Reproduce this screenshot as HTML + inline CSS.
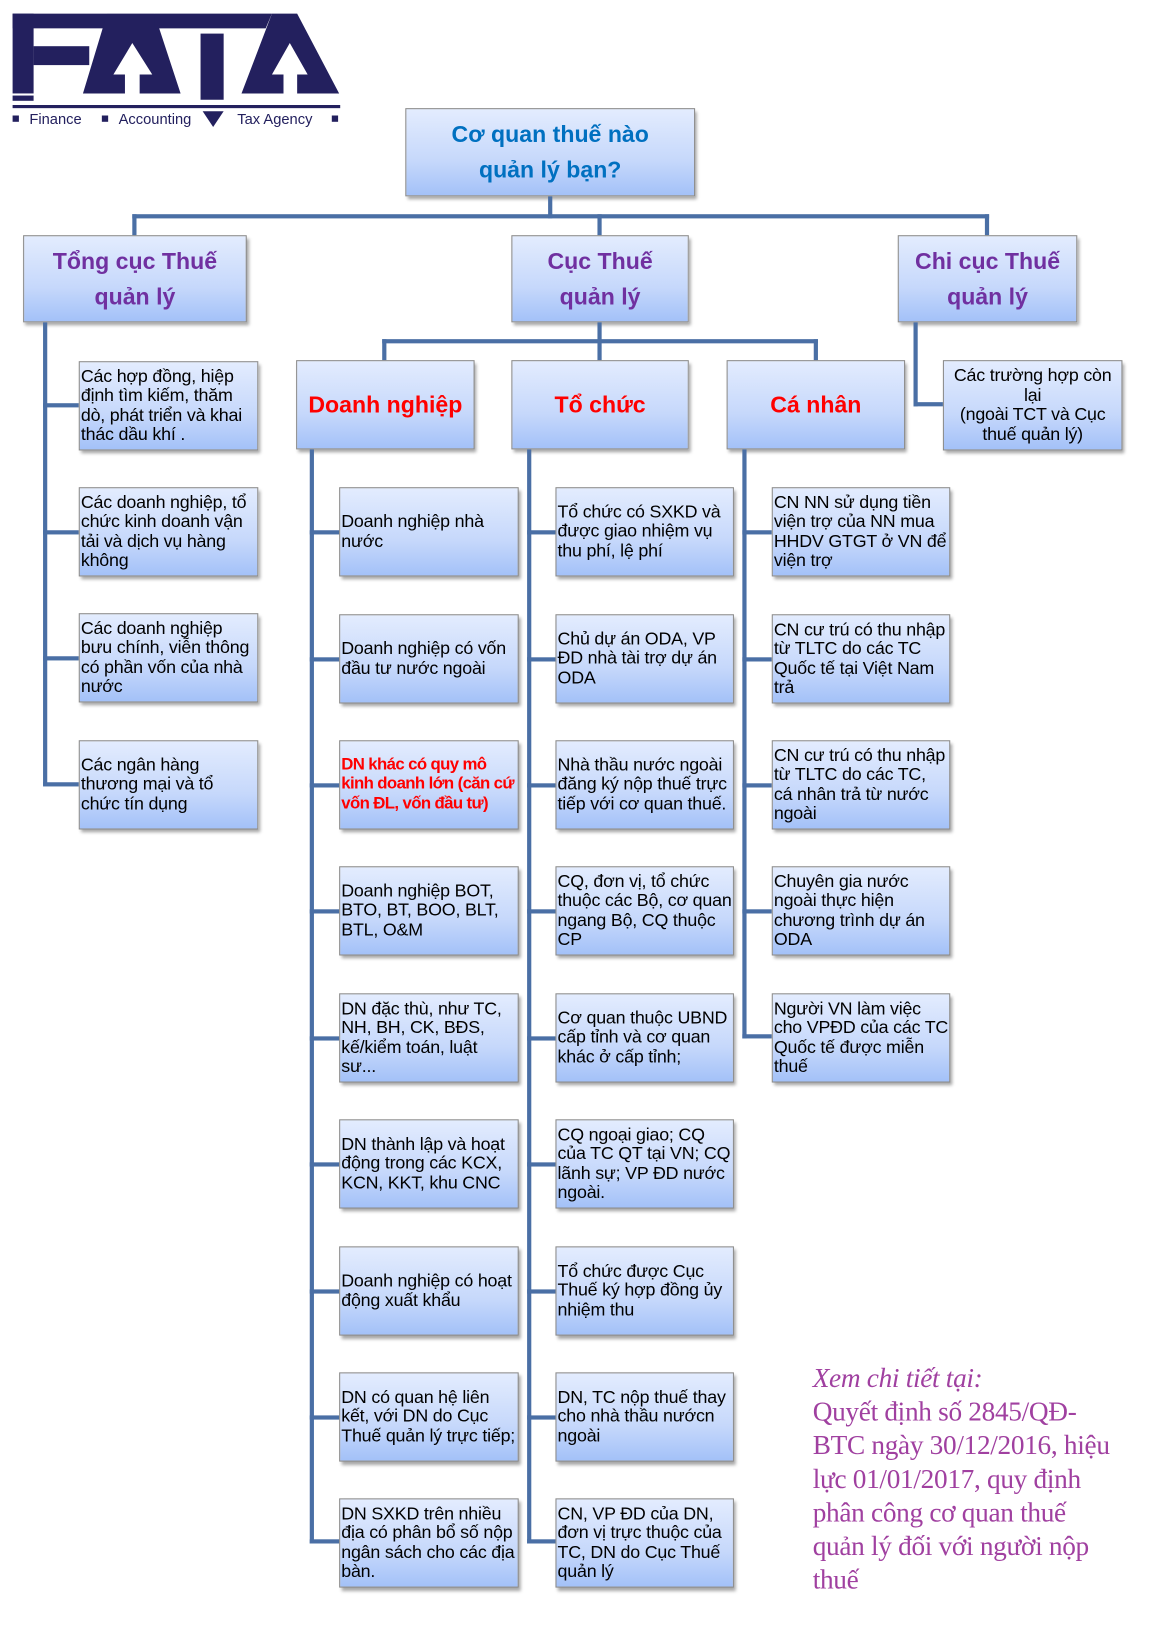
<!DOCTYPE html>
<html><head><meta charset="utf-8"><style>
html,body{margin:0;padding:0;background:#fff;width:1176px;height:1648px;overflow:hidden}
#w{position:absolute;left:0;top:0;width:1120px;height:1570px;transform:scale(1.05);transform-origin:0 0;font-family:"Liberation Sans",Arial,sans-serif}
.b{position:absolute;box-sizing:border-box;border:1px solid #8a8a8a;background:linear-gradient(#e3ecfe,#c6d8fb 60%,#a3c1f8);box-shadow:2px 3px 3px rgba(0,0,0,.35)}
.h{display:flex;align-items:center;justify-content:center;text-align:center;font-weight:bold;font-size:22px;line-height:34px}
.s{display:flex;align-items:center;font-size:17px;line-height:18.5px;color:#000;letter-spacing:-0.2px;padding:0 1px}
.l{position:absolute;background:#4a6fa5}
.t1{left:75px;width:171px;height:85px}
.d{left:323px;width:171px;height:85px}
.o{left:529px;width:170px;height:85px}
.c{left:735px;width:170px;height:85px}
</style></head><body><div id="w">
<svg style="position:absolute;left:0;top:0" width="340" height="125">
<g fill="#23205e">
<rect x="12" y="13" width="90" height="14"/><rect x="12" y="13" width="20" height="76"/><rect x="32" y="44" width="53" height="18"/><rect x="12" y="91" width="20" height="5"/>
<polygon points="102,13 147,13 172,89 133,89 133,71 145,71 126,41 108,71 119,71 119,89 79,89"/>
<polygon points="147,13 259,13 253,27 147,27"/><rect x="191" y="32" width="22" height="63"/>
<polygon points="259,13 283,13 323,89 283,89 283,71 293,71 276,41 259,71 270,71 270,89 230,89"/>
<rect x="12" y="100" width="312" height="3"/>
<rect x="12" y="110" width="6" height="6"/><rect x="97" y="110" width="6" height="6"/><rect x="316" y="110" width="6" height="6"/>
<polygon points="193,106 213,106 203,121"/>
</g>
<g fill="#23205e" font-family="Liberation Sans,sans-serif" font-size="14"><text x="28" y="118">Finance</text><text x="113" y="118">Accounting</text><text x="226" y="118">Tax Agency</text></g>
</svg>

<div class="b h" style="left:386px;top:103px;width:276px;height:84px;color:#0070c0">Cơ quan thuế nào<br>quản lý bạn?</div>
<div class="l" style="left:522px;top:187px;width:4px;height:21px"></div>
<div class="l" style="left:126px;top:204px;width:816px;height:4px"></div>
<div class="l" style="left:126px;top:204px;width:4px;height:20px"></div>
<div class="l" style="left:569px;top:204px;width:4px;height:20px"></div>
<div class="l" style="left:938px;top:204px;width:4px;height:20px"></div>

<div class="b h" style="left:22px;top:224px;width:213px;height:83px;color:#7030a0">Tổng cục Thuế<br>quản lý</div>
<div class="b h" style="left:487px;top:224px;width:169px;height:83px;color:#7030a0">Cục Thuế<br>quản lý</div>
<div class="b h" style="left:855px;top:224px;width:171px;height:83px;color:#7030a0">Chi cục Thuế<br>quản lý</div>

<div class="l" style="left:569px;top:307px;width:4px;height:36px"></div>
<div class="l" style="left:364px;top:323px;width:415px;height:4px"></div>
<div class="l" style="left:364px;top:323px;width:4px;height:20px"></div>
<div class="l" style="left:775px;top:323px;width:4px;height:20px"></div>

<div class="b h" style="left:282px;top:343px;width:170px;height:85px;color:#ff0000">Doanh nghiệp</div>
<div class="b h" style="left:487px;top:343px;width:169px;height:85px;color:#ff0000">Tổ chức</div>
<div class="b h" style="left:692px;top:343px;width:170px;height:85px;color:#ff0000">Cá nhân</div>

<div class="l" style="left:870px;top:307px;width:4px;height:80px"></div>
<div class="l" style="left:870px;top:383px;width:28px;height:4px"></div>
<div class="b s" style="left:898px;top:343px;width:171px;height:86px;justify-content:center;text-align:center">Các trường hợp còn lại<br>(ngoài TCT và Cục thuế quản lý)</div>

<div class="l" style="left:41px;top:307px;width:4px;height:441px"></div>
<div class="l" style="left:295px;top:428px;width:4px;height:1042px"></div>
<div class="l" style="left:502px;top:428px;width:4px;height:1042px"></div>
<div class="l" style="left:707px;top:428px;width:4px;height:561px"></div>

<div class="l" style="left:41px;top:384px;width:34px;height:4px"></div>
<div class="l" style="left:41px;top:505px;width:34px;height:4px"></div>
<div class="l" style="left:41px;top:625px;width:34px;height:4px"></div>
<div class="l" style="left:41px;top:745px;width:34px;height:4px"></div>
<div class="b s t1" style="top:344px">Các hợp đồng, hiệp định tìm kiếm, thăm dò, phát triển và khai thác dầu khí .</div>
<div class="b s t1" style="top:464px">Các doanh nghiệp, tổ chức kinh doanh vận tải và dịch vụ hàng không</div>
<div class="b s t1" style="top:584px">Các doanh nghiệp bưu chính, viễn thông có phần vốn của nhà nước</div>
<div class="b s t1" style="top:705px">Các ngân hàng thương mại và tổ chức tín dụng</div>

<div class="l" style="left:295px;top:505px;width:28px;height:4px"></div>
<div class="l" style="left:295px;top:626px;width:28px;height:4px"></div>
<div class="l" style="left:295px;top:746px;width:28px;height:4px"></div>
<div class="l" style="left:295px;top:866px;width:28px;height:4px"></div>
<div class="l" style="left:295px;top:987px;width:28px;height:4px"></div>
<div class="l" style="left:295px;top:1107px;width:28px;height:4px"></div>
<div class="l" style="left:295px;top:1228px;width:28px;height:4px"></div>
<div class="l" style="left:295px;top:1348px;width:28px;height:4px"></div>
<div class="l" style="left:295px;top:1466px;width:28px;height:4px"></div>
<div class="b s d" style="top:464px">Doanh nghiệp nhà nước</div>
<div class="b s d" style="top:585px">Doanh nghiệp có vốn đầu tư nước ngoài</div>
<div class="b s d" style="top:705px;color:#ff0000;font-weight:bold;font-size:16px;letter-spacing:-0.6px">DN khác có quy mô kinh doanh lớn (căn cứ vốn ĐL, vốn đầu tư)</div>
<div class="b s d" style="top:825px">Doanh nghiệp BOT, BTO, BT, BOO, BLT, BTL, O&amp;M</div>
<div class="b s d" style="top:946px">DN đặc thù, như TC, NH, BH, CK, BĐS, kế/kiểm toán, luật sư...</div>
<div class="b s d" style="top:1066px">DN thành lập và hoạt động trong các KCX, KCN, KKT, khu CNC</div>
<div class="b s d" style="top:1187px">Doanh nghiệp có hoạt động xuất khẩu</div>
<div class="b s d" style="top:1307px">DN có quan hệ liên kết, với DN do Cục Thuế quản lý trực tiếp;</div>
<div class="b s d" style="top:1427px">DN SXKD trên nhiều địa có phân bổ số nộp ngân sách cho các địa bàn.</div>

<div class="l" style="left:502px;top:505px;width:27px;height:4px"></div>
<div class="l" style="left:502px;top:626px;width:27px;height:4px"></div>
<div class="l" style="left:502px;top:746px;width:27px;height:4px"></div>
<div class="l" style="left:502px;top:866px;width:27px;height:4px"></div>
<div class="l" style="left:502px;top:987px;width:27px;height:4px"></div>
<div class="l" style="left:502px;top:1107px;width:27px;height:4px"></div>
<div class="l" style="left:502px;top:1228px;width:27px;height:4px"></div>
<div class="l" style="left:502px;top:1348px;width:27px;height:4px"></div>
<div class="l" style="left:502px;top:1466px;width:27px;height:4px"></div>
<div class="b s o" style="top:464px">Tổ chức có SXKD và được giao nhiệm vụ thu phí, lệ phí</div>
<div class="b s o" style="top:585px">Chủ dự án ODA, VP ĐD nhà tài trợ dự án ODA</div>
<div class="b s o" style="top:705px">Nhà thầu nước ngoài đăng ký nộp thuế trực tiếp với cơ quan thuế.</div>
<div class="b s o" style="top:825px">CQ, đơn vị, tổ chức thuộc các Bộ, cơ quan ngang Bộ, CQ thuộc CP</div>
<div class="b s o" style="top:946px">Cơ quan thuộc UBND cấp tỉnh và cơ quan khác ở cấp tỉnh;</div>
<div class="b s o" style="top:1066px">CQ ngoại giao; CQ của TC QT tại VN; CQ lãnh sự; VP ĐD nước ngoài.</div>
<div class="b s o" style="top:1187px">Tổ chức được Cục Thuế ký hợp đồng ủy nhiệm thu</div>
<div class="b s o" style="top:1307px">DN, TC nộp thuế thay cho nhà thầu nướcn ngoài</div>
<div class="b s o" style="top:1427px">CN, VP ĐD của DN, đơn vị trực thuộc của TC, DN do Cục Thuế quản lý</div>

<div class="l" style="left:707px;top:505px;width:28px;height:4px"></div>
<div class="l" style="left:707px;top:626px;width:28px;height:4px"></div>
<div class="l" style="left:707px;top:746px;width:28px;height:4px"></div>
<div class="l" style="left:707px;top:866px;width:28px;height:4px"></div>
<div class="l" style="left:707px;top:985px;width:28px;height:4px"></div>
<div class="b s c" style="top:464px">CN NN sử dụng tiền viện trợ của NN mua HHDV GTGT ở VN để viện trợ</div>
<div class="b s c" style="top:585px">CN cư trú có thu nhập từ TLTC do các TC Quốc tế tại Việt Nam trả</div>
<div class="b s c" style="top:705px">CN cư trú có thu nhập từ TLTC do các TC, cá nhân trả từ nước ngoài</div>
<div class="b s c" style="top:825px">Chuyên gia nước ngoài thực hiện chương trình dự án ODA</div>
<div class="b s c" style="top:946px">Người VN làm việc cho VPĐD của các TC Quốc tế được miễn thuế</div>

<div style="position:absolute;left:774px;top:1297px;width:285px;font-family:'Liberation Serif','Times New Roman',serif;font-size:26px;line-height:32px;color:#a040a0;letter-spacing:-0.3px"><i>Xem chi tiết tại:</i><br>Quyết định số 2845/QĐ-BTC ngày 30/12/2016, hiệu lực 01/01/2017, quy định phân công cơ quan thuế quản lý đối với người nộp thuế</div>
</div></body></html>
